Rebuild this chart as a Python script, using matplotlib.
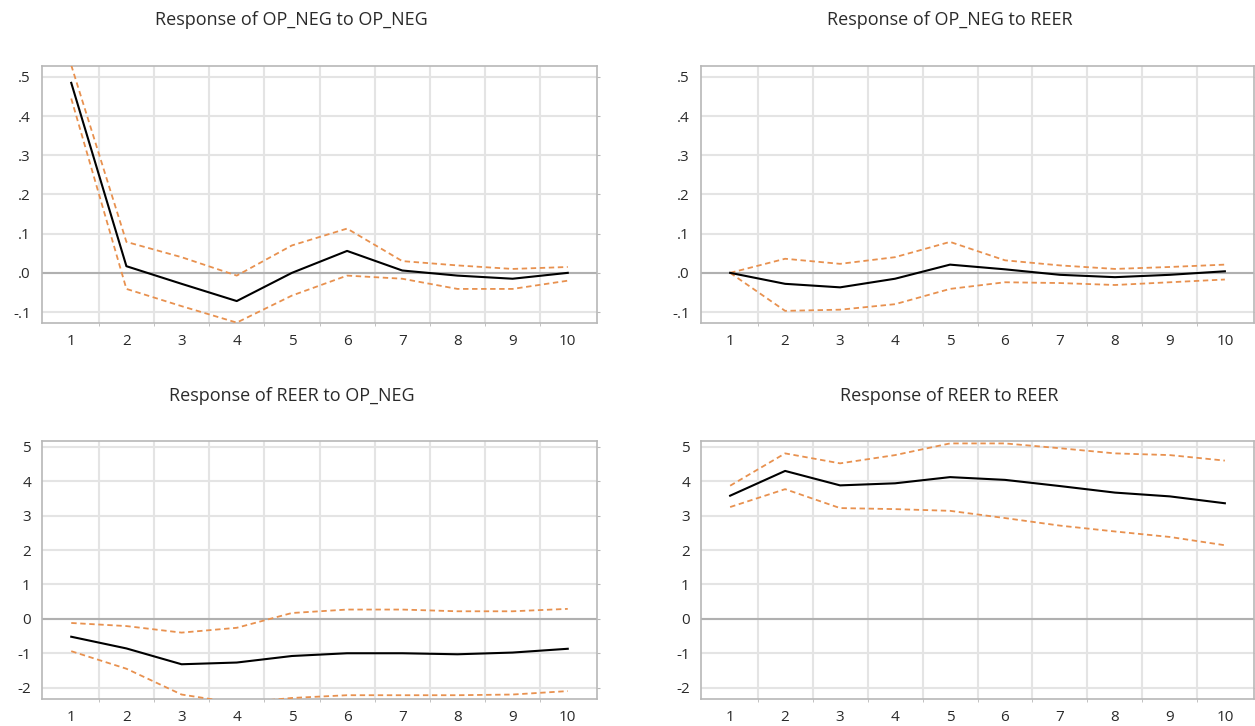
import matplotlib
matplotlib.use("Agg")
import matplotlib.pyplot as plt
import numpy as np

plt.rcParams['font.family'] = ['Open Sans', 'DejaVu Sans']

horizon = [1, 2, 3, 4, 5, 6, 7, 8, 9, 10]

titles = ["Response of OP_NEG to OP_NEG", "Response of OP_NEG to REER",
          "Response of REER to OP_NEG", "Response of REER to REER"]

# Panel 1: OP_NEG -> OP_NEG
p1_resp = [0.485, 0.017, -0.028, -0.072, 0.0, 0.056, 0.006, -0.007, -0.015, 0.0]
p1_up = [0.53, 0.079, 0.040, -0.007, 0.070, 0.113, 0.030, 0.019, 0.010, 0.015]
p1_lo = [0.445, -0.041, -0.085, -0.127, -0.058, -0.007, -0.015, -0.041, -0.041, -0.020]

# Panel 2: OP_NEG -> REER
p2_resp = [0.0, -0.028, -0.037, -0.015, 0.021, 0.009, -0.005, -0.011, -0.005, 0.004]
p2_up = [0.0, 0.036, 0.023, 0.040, 0.079, 0.032, 0.019, 0.010, 0.015, 0.021]
p2_lo = [0.0, -0.097, -0.094, -0.080, -0.041, -0.024, -0.026, -0.031, -0.024, -0.017]

# Panel 3: REER -> OP_NEG
p3_resp = [-0.52, -0.86, -1.32, -1.27, -1.08, -1.00, -1.00, -1.03, -0.98, -0.87]
p3_up = [-0.12, -0.21, -0.40, -0.26, 0.17, 0.27, 0.27, 0.22, 0.22, 0.29]
p3_lo = [-0.94, -1.45, -2.20, -2.45, -2.30, -2.22, -2.22, -2.22, -2.20, -2.10]

# Panel 4: REER -> REER
p4_resp = [3.58, 4.30, 3.88, 3.94, 4.12, 4.04, 3.86, 3.67, 3.56, 3.36]
p4_up = [3.87, 4.81, 4.52, 4.76, 5.10, 5.10, 4.96, 4.81, 4.76, 4.60]
p4_lo = [3.25, 3.77, 3.22, 3.19, 3.14, 2.93, 2.71, 2.54, 2.38, 2.14]

top_yticks = [-0.1, 0.0, 0.1, 0.2, 0.3, 0.4, 0.5]
top_ylabels = ["-.1", ".0", ".1", ".2", ".3", ".4", ".5"]
bot_yticks = [-2, -1, 0, 1, 2, 3, 4, 5]
bot_ylabels = ["-2", "-1", "0", "1", "2", "3", "4", "5"]

panels = [
    (p1_resp, p1_up, p1_lo, top_yticks, top_ylabels, (-0.128, 0.528)),
    (p2_resp, p2_up, p2_lo, top_yticks, top_ylabels, (-0.128, 0.528)),
    (p3_resp, p3_up, p3_lo, bot_yticks, bot_ylabels, (-2.33, 5.17)),
    (p4_resp, p4_up, p4_lo, bot_yticks, bot_ylabels, (-2.33, 5.17)),
]

W, H = 1255, 726
fig = plt.figure(figsize=(W / 100, H / 100), dpi=100)

boxes = [(42, 597, 66, 323), (701, 1254, 66, 323),
         (42, 597, 441, 699), (701, 1254, 441, 699)]
title_y = [20, 20, 396, 396]
title_shift = -28

orange = "#E8914F"
grid_c = "#E4E4E4"
spine_c = "#B8B8B8"
text_c = "#2A2A2A"

for i, (resp, up, lo, yt, yl, ylim) in enumerate(panels):
    l, r, t, b = boxes[i]
    ax = fig.add_axes([l / W, 1 - b / H, (r - l) / W, (b - t) / H])
    ax.set_xlim(0.47, 10.53)
    ax.set_ylim(*ylim)
    ax.set_xticks(horizon)
    ax.set_xticklabels([str(h) for h in horizon])
    ax.set_xticks([h + 0.5 for h in horizon[:-1]], minor=True)
    ax.set_yticks(yt)
    ax.set_yticklabels(yl)
    ax.grid(True, which='minor', axis='x', color=grid_c, lw=1.5)
    ax.grid(True, which='major', axis='y', color=grid_c, lw=1.5)
    ax.tick_params(axis='x', which='major', length=0, pad=8, labelsize=11, labelcolor=text_c)
    ax.tick_params(axis='x', which='minor', length=2, color=spine_c, direction='out')
    ax.tick_params(axis='y', which='major', length=2, color=spine_c, direction='out',
                   left=False, right=True, labelleft=True, labelright=False,
                   pad=6, labelsize=11, labelcolor=text_c)
    for s in ax.spines.values():
        s.set_color(spine_c)
        s.set_linewidth(1.2)
    ax.axhline(0, color="#B0B0B0", lw=1.5, zorder=1)
    ax.plot(horizon, up, color=orange, lw=1.3, ls=(0, (3, 2)), zorder=3)
    ax.plot(horizon, lo, color=orange, lw=1.3, ls=(0, (3, 2)), zorder=3)
    ax.plot(horizon, resp, color="black", lw=1.5, zorder=4)
    ax.set_axisbelow(True)
    fig.text(((l + r) / 2 + title_shift) / W, 1 - title_y[i] / H, titles[i],
             ha='center', va='center', fontsize=13, color=text_c)

fig.savefig("out.png", dpi=100)
